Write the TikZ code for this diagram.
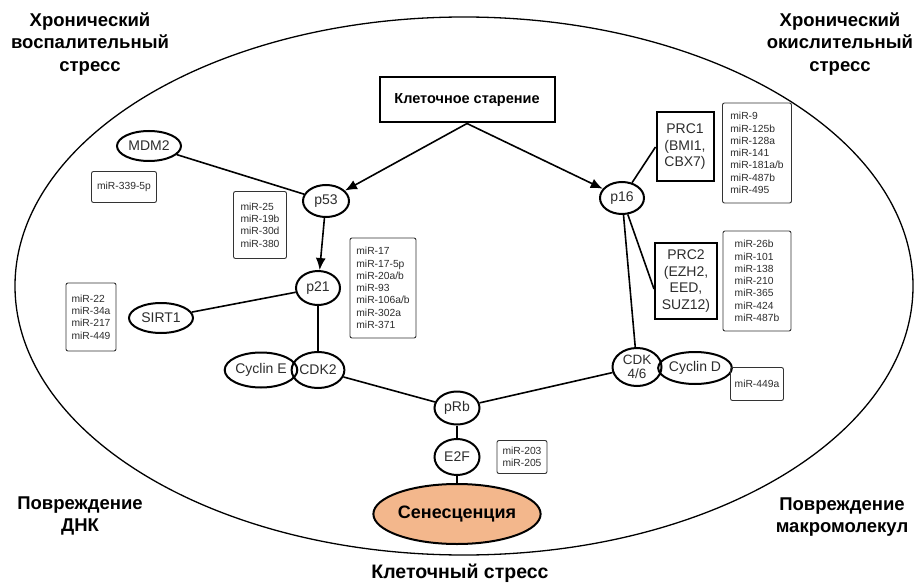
\documentclass[tikz,border=0pt]{standalone}
\usepackage{fontspec}
\setmainfont{Liberation Sans}
\usetikzlibrary{arrows.meta,shapes.geometric}
\definecolor{senfill}{RGB}{243,183,140}
\definecolor{txt}{RGB}{45,45,45}
\tikzset{
  oval/.style={ellipse,draw=black,line width=2pt,inner sep=0pt,text=txt,font=\fontsize{14}{16}\selectfont},
  sqbox/.style={rectangle,draw=black,line width=2pt,inner sep=0pt,text=txt,align=center,font=\fontsize{14}{16.5}\selectfont},
  mirbox/.style={rectangle,rounded corners=2pt,draw=black!80,line width=0.9pt,inner sep=0pt,text=txt,align=left,font=\fontsize{10.3}{12.3}\selectfont},
  corner/.style={align=center,font=\bfseries\fontsize{18.5}{22.5}\selectfont},
  link/.style={line width=1.6pt},
  arr/.style={line width=1.6pt,-{Latex[length=12pt,width=10pt]}}
}
\begin{document}
\begin{tikzpicture}[x=1pt,y=-1pt]
\useasboundingbox (0,0) rectangle (917,585);
\fill[white] (0,0) rectangle (917,585);
% big ellipse
\draw[line width=1.3pt] (464,286) ellipse [x radius=449, y radius=269];
% corner labels
\node[corner] (tl) at (90,44) {Хронический\\воспалительный\\стресс};
\node[corner] (tr) at (840,44) {Хронический\\окислительный\\стресс};
\node[corner] (bl) at (80,516) {Повреждение\\ДНК};
\node[corner] (br) at (842,517) {Повреждение\\макромолекул};
\node[font=\bfseries\fontsize{19.5}{22}\selectfont] (bc) at (460,573) {Клеточный стресс};
% main nodes
\node[sqbox,minimum width=175pt,minimum height=45pt,font=\bfseries\fontsize{14.5}{16}\selectfont,text=black] (cs) at (467,100) {Клеточное старение};
\node[oval,minimum width=64pt,minimum height=30pt] (mdm2) at (149,146) {MDM2};
\node[oval,minimum width=46pt,minimum height=32pt] (p53) at (326,201) {p53};
\node[oval,minimum width=44pt,minimum height=34pt] (p21) at (318,288) {p21};
\node[oval,minimum width=64pt,minimum height=30pt] (sirt1) at (161,318) {SIRT1};
\node[oval,minimum width=62pt,minimum height=35pt] (cyce) at (261,370) {Cyclin E};
\node[oval,minimum width=44pt,minimum height=36pt] (cdk2) at (318,370) {CDK2};
\node[oval,minimum width=45pt,minimum height=33pt] (prb) at (457,408) {pRb};
\node[oval,minimum width=45pt,minimum height=36pt] (e2f) at (457,457) {E2F};
\node[oval,minimum width=160pt,minimum height=60pt,fill=senfill,text=black,font=\bfseries\fontsize{18}{20}\selectfont] (sen) at (457,514) {Сенесценция};
\node[oval,minimum width=49pt,minimum height=38pt,align=center,font=\fontsize{13.5}{14}\selectfont] (cdk46) at (637,367) {CDK\\4/6};
\node[oval,minimum width=65pt,minimum height=32pt] (cycd) at (695,368) {Cyclin D};
\node[oval,minimum width=44pt,minimum height=32pt] (p16) at (622,198) {p16};
\node[sqbox,minimum width=57pt,minimum height=69pt] (prc1) at (685,147) {PRC1\\(BMI1,\\CBX7)};
\node[sqbox,minimum width=62pt,minimum height=76pt] (prc2) at (686,281) {PRC2\\(EZH2,\\EED,\\SUZ12)};
% miR boxes
\node[mirbox,minimum width=65pt,minimum height=31pt,align=center] (m339) at (124,187) {miR-339-5p};
\node[mirbox,minimum width=53pt,minimum height=67pt] (m25) at (260,225) {miR-25\\miR-19b\\miR-30d\\miR-380};
\node[mirbox,minimum width=66pt,minimum height=100pt] (m17) at (383,288) {miR-17\\miR-17-5p\\miR-20a/b\\miR-93\\miR-106a/b\\miR-302a\\miR-371};
\node[mirbox,minimum width=50pt,minimum height=68pt] (m22) at (91,317) {miR-22\\miR-34a\\miR-217\\miR-449};
\node[mirbox,minimum width=50pt,minimum height=33pt,align=center] (m203) at (522,457) {miR-203\\miR-205};
\node[mirbox,minimum width=53pt,minimum height=33pt,align=center] (m449a) at (757,384) {miR-449a};
\node[mirbox,minimum width=69pt,minimum height=100pt] (m9) at (757,153) {miR-9\\miR-125b\\miR-128a\\miR-141\\miR-181a/b\\miR-487b\\miR-495};
\node[mirbox,minimum width=68pt,minimum height=100pt] (m26) at (757,281) {miR-26b\\miR-101\\miR-138\\miR-210\\miR-365\\miR-424\\miR-487b};
% connectors
\draw[arr] (cs.south) -- (p53);
\draw[arr] (cs.south) -- (p16);
\draw[link] (mdm2) -- (p53);
\draw[arr] (p53) -- (p21);
\draw[link] (p21) -- (sirt1);
\draw[link] (p21) -- (cdk2);
\draw[link] (cdk2) -- (prb);
\draw[link] (prb) -- (cdk46);
\draw[link] (prb) -- (e2f);
\draw[link] (e2f) -- (sen);
\draw[link] (p16) -- (prc1.west);
\draw[link] (p16) -- ([yshift=-8pt]prc2.west);
\draw[link] (p16) -- (cdk46);
\end{tikzpicture}
\end{document}
